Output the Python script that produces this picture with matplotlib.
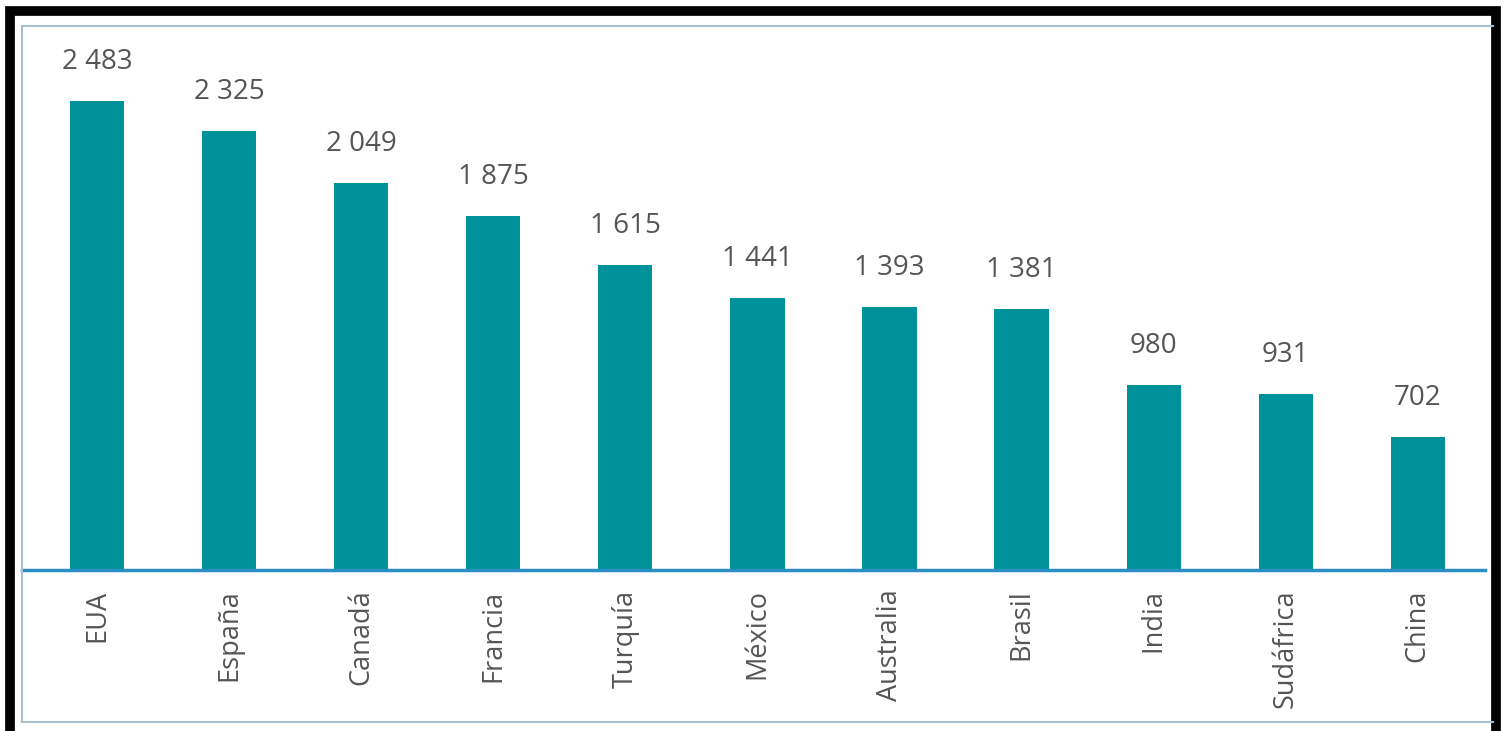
import matplotlib
matplotlib.use("Agg")
import matplotlib.pyplot as plt
from matplotlib.patches import Rectangle
from matplotlib.lines import Line2D

paises = ["EUA", "España", "Canadá", "Francia", "Turquía", "México",
          "Australia", "Brasil", "India", "Sudáfrica", "China"]
valores = [2483, 2325, 2049, 1875, 1615, 1441, 1393, 1381, 980, 931, 702]

plt.rcParams['font.family'] = ['Open Sans', 'DejaVu Sans']

W, H = 1507, 731
fig = plt.figure(figsize=(W / 100, H / 100), dpi=100)

# axes: baseline at y=570 px, top at y=26 px, left at x=22 px, right at x=1485 px
ax = fig.add_axes([22 / W, 1 - 570 / H, (1485 - 22) / W, (570 - 26) / H])
x = range(len(paises))
ax.bar(x, valores, width=0.41, color="#00929b")
ax.set_xlim(-0.57, 10.51)
ax.set_ylim(0, 2880)

for i, v in enumerate(valores):
    ax.annotate(f"{v:,}".replace(",", " "), (i, v), xytext=(0, 18),
                textcoords="offset points", ha="center", va="bottom",
                fontsize=20, color="#555555")

ax.set_xticks(list(x))
ax.set_xticklabels(paises, rotation=90, fontsize=19.5, color="#555555",
                   va="top")
ax.tick_params(axis="x", length=0, pad=14)
ax.set_yticks([])
for s in ax.spines.values():
    s.set_visible(False)
ax.axhline(0, color="#2b8ec4", lw=2.5, clip_on=False)

# thin inner frame
fc = "#a9bfcf"
fig.add_artist(Line2D([22 / W, 1493 / W], [1 - 26 / H, 1 - 26 / H], color=fc, lw=1.5))
fig.add_artist(Line2D([22 / W, 22 / W], [1 - 26 / H, 1 - 722 / H], color=fc, lw=1.5))
fig.add_artist(Line2D([22 / W, 1493 / W], [1 - 722 / H, 1 - 722 / H], color=fc, lw=1.5))

# thick black outer border
fig.add_artist(Rectangle((10 / W, 0 - 2 / H), (1496 - 10) / W, (731 - 11 + 2) / H,
                         transform=fig.transFigure, fill=False,
                         edgecolor="black", lw=7))

fig.savefig("out.png", dpi=100)
